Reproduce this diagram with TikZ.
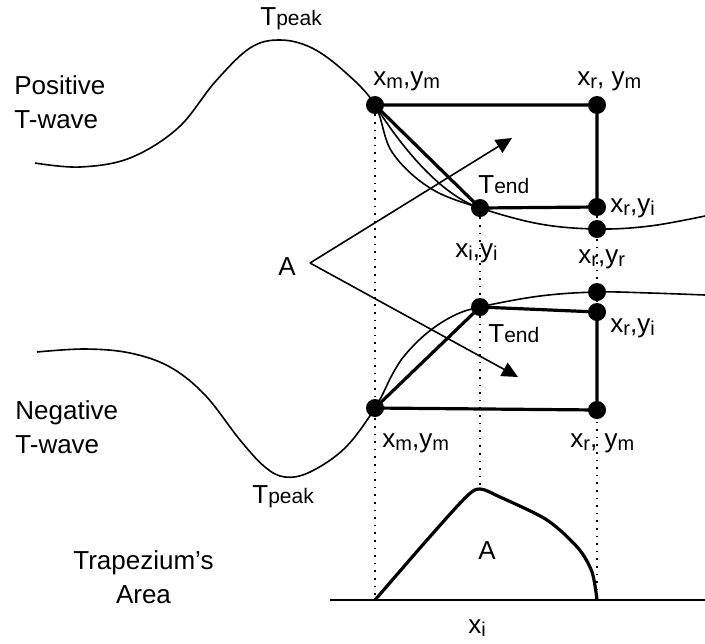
\documentclass[tikz,border=0pt]{standalone}
\usepackage{fontspec}
\setmainfont{Liberation Sans}
\usetikzlibrary{arrows.meta}
\newcommand{\tsmall}[1]{T{\fontsize{10.5}{12}\selectfont #1}}
\newcommand{\lo}[1]{\raisebox{-1.7pt}{\fontsize{10}{12}\selectfont #1}}
\tikzset{
  dot/.style={circle, fill=black, inner sep=0pt, minimum size=9pt},
  wave/.style={line width=0.8pt},
  bar/.style={line width=1.6pt, line join=round},
  guide/.style={line width=0.8pt, dash pattern=on 0.8pt off 3pt},
  pointer/.style={line width=0.8pt, -{Triangle[length=8pt, width=7.5pt]}},
  lbl/.style={anchor=base west, inner sep=0pt, font=\fontsize{13}{17}\selectfont}
}
\begin{document}
\begin{tikzpicture}[x=0.5pt, y=-0.5pt]
    \useasboundingbox (0,0) rectangle (705,643);
    % Punkte oben
    \node[dot] (xm1) at (375,105) {};
    \node[dot] (xr1) at (597,105) {};
    \node[dot] (te1) at (480,208) {};
    \node[dot] (yi1) at (597,207) {};
    \node[dot] (yr1) at (597,229) {};
    % Punkte unten
    \node[dot] (te2) at (480,307) {};
    \node[dot] (yr2) at (597,292) {};
    \node[dot] (yi2) at (597,312) {};
    \node[dot] (xm2) at (375,408) {};
    \node[dot] (xr2) at (597,410) {};
    \coordinate (fork) at (310,263);
    \coordinate (tipU) at (512,138);
    \coordinate (tipL) at (518,377);
    \coordinate (b0) at (330,600);
    \coordinate (b1) at (705,600);
    \coordinate (foot1) at (375,600);
    \coordinate (foot3) at (597,600);
    \coordinate (apex) at (480,489);
    % Wellen
    \draw[wave] plot[smooth, tension=0.6] coordinates {(35,163) (80,167) (130,158) (178,128) (215,82) (250,48) (280,40) (312,48) (345,72) (xm1.center) (392,152) (430,188) (te1.center) (540,224) (yr1.center) (650,226) (705,216)};
    \draw[wave] (xm1.center) .. controls (400,145) and (440,195) .. (te1.center);
    \draw[wave] plot[smooth, tension=0.6] coordinates {(37,352) (85,349) (130,353) (170,367) (205,395) (240,440) (265,467) (285,477) (310,472) (345,448) (xm2.center) (392,375) (405,355) (427,333) (453,316) (te2.center) (540,296) (yr2.center) (650,293) (705,295)};
    % Trapeze
    \draw[bar] (xm1.center) -- (xr1.center) -- (yi1.center) -- (te1.center) -- cycle;
    \draw[bar] (xm2.center) -- (xr2.center) -- (yi2.center) -- (te2.center) -- cycle;
    % Hilfslinien
    \draw[guide] (xm1) -- (foot1);
    \draw[guide] (te1) -- (apex);
    \draw[guide] (yi1) -- (foot3);
    \draw[pointer] (fork) -- (tipU);
    \draw[pointer] (fork) -- (tipL);
    % Flaeche
    \draw[line width=1.2pt] (b0) -- (b1);
    \draw[bar] plot[smooth, tension=0.5] coordinates {(foot1) (427,540) (466,497) (apex) (500,497) (547,520) (578,548) (592,572) (foot3)};
    % Beschriftung
    \node[lbl] (tpk1) at (260,25) {\tsmall{peak}};
    \node[lbl, align=left] (pos) at (14,128) {Positive\\T-wave};
    \node[lbl] (lxm1) at (373,85) {x\lo{m},y\lo{m}};
    \node[lbl] (lxr1) at (577,85) {x\lo{r}, y\lo{m}};
    \node[lbl] (lte1) at (478,193) {\tsmall{end}};
    \node[lbl] (lyi1) at (610,212) {x\lo{r},y\lo{i}};
    \node[lbl] (lxi) at (455,257) {x\lo{i},y\lo{i}};
    \node[lbl] (lyr) at (578,263) {x\lo{r},y\lo{r}};
    \node[lbl] (la) at (278,275) {A};
    \node[lbl] (lte2) at (488,342) {\tsmall{end}};
    \node[lbl] (lyi2) at (610,332) {x\lo{r},y\lo{i}};
    \node[lbl] (lxm2) at (382,447) {x\lo{m},y\lo{m}};
    \node[lbl] (lxr2) at (570,447) {x\lo{r}, y\lo{m}};
    \node[lbl, align=left] (neg) at (15,453) {Negative\\T-wave};
    \node[lbl] (tpk2) at (252,503) {\tsmall{peak}};
    \node[lbl, align=center] (trap) at (73,603) {Trapezium’s\\Area};
    \node[lbl] (la2) at (478,559) {A};
    \node[lbl] (lxi2) at (468,633) {x\lo{i}};
\end{tikzpicture}
\end{document}
